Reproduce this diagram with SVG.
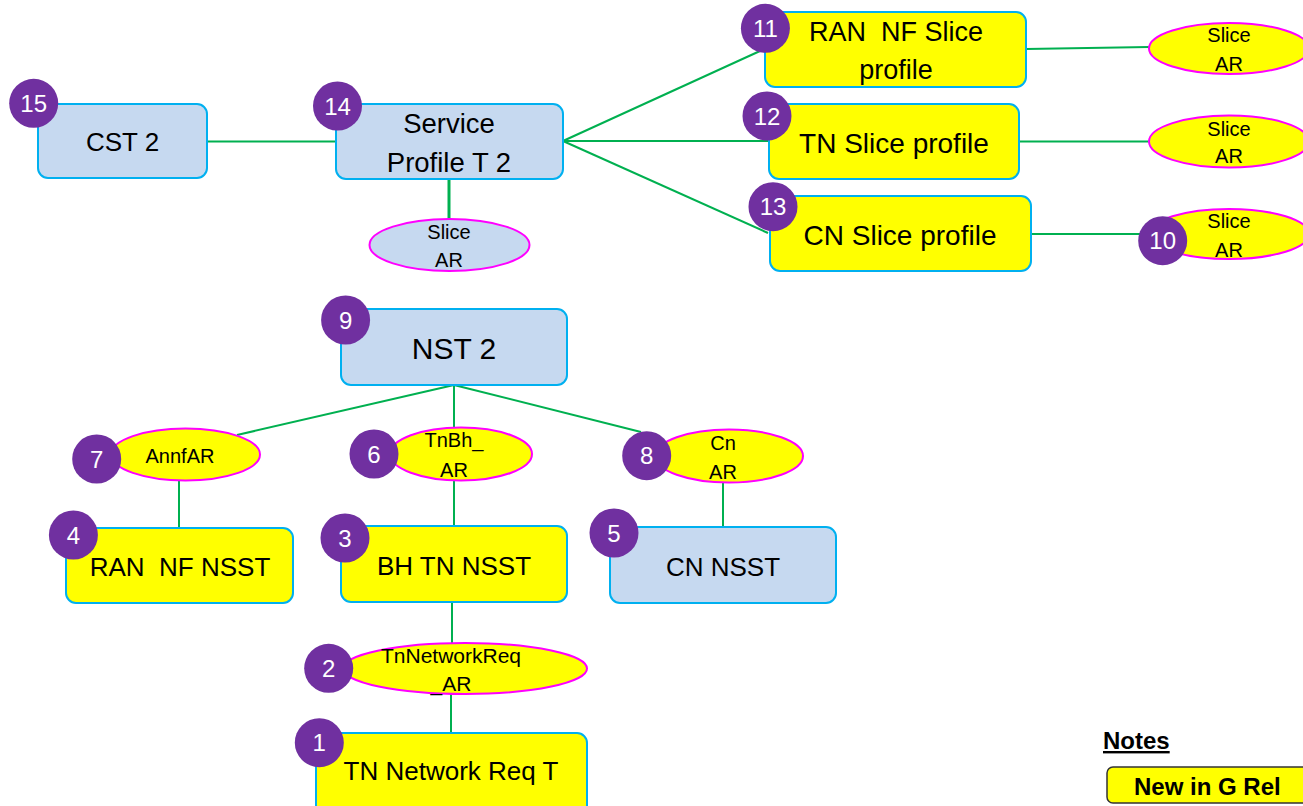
<svg xmlns="http://www.w3.org/2000/svg" width="1303" height="806" viewBox="0 0 1303 806">
<style>
text{font-family:"Liberation Sans",Arial,sans-serif;fill:#000}
.bb{fill:#C6D9F0;stroke:#00B0F0;stroke-width:2}
.yb{fill:#FFFF00;stroke:#00B0F0;stroke-width:2}
.ye{fill:#FFFF00;stroke:#FF00FF;stroke-width:2}
.be{fill:#C6D9F0;stroke:#FF00FF;stroke-width:2}
.t{font-size:26px;text-anchor:middle;white-space:pre}
.tp{font-size:28px}
.tl{font-size:30px;text-anchor:middle}
.s{font-size:20px;text-anchor:middle}
.n circle{fill:#7030A0}
.n text{fill:#fff;font-size:24px;text-anchor:middle}
#conn line{stroke:#00B050;stroke-width:2}
</style>
<rect width="1303" height="806" fill="#fff"/>
<g id="conn">
<line x1="207" y1="141.5" x2="336" y2="141.5"/>
<line x1="449" y1="179" x2="449" y2="220" style="stroke-width:3"/>
<line x1="563" y1="141" x2="760" y2="51"/>
<line x1="563" y1="141" x2="769" y2="141"/>
<line x1="563" y1="141" x2="768" y2="233"/>
<line x1="1026" y1="49" x2="1149" y2="47"/>
<line x1="1019" y1="141.5" x2="1149" y2="141.5"/>
<line x1="1031" y1="234" x2="1145" y2="234"/>
<line x1="454" y1="385" x2="237" y2="435"/>
<line x1="454" y1="385" x2="454" y2="428"/>
<line x1="454" y1="385" x2="641" y2="432"/>
<line x1="179" y1="481" x2="179" y2="528"/>
<line x1="454" y1="481" x2="454" y2="526"/>
<line x1="723" y1="483" x2="723" y2="527"/>
<line x1="452" y1="602" x2="452" y2="643"/>
<line x1="451" y1="694" x2="451" y2="733"/>
</g>
<g id="cst2"><rect class="bb" x="38" y="104" width="169" height="74" rx="10"/><text class="t" x="122.5" y="151">CST 2</text></g>
<g id="sp"><rect class="bb" x="336" y="104" width="227" height="75" rx="10"/><text class="t" x="449" y="133" style="font-size:27.5px">Service</text><text class="t" x="449" y="172" style="font-size:27.5px">Profile T 2</text></g>
<g id="sp-ar"><ellipse class="be" cx="449.5" cy="245" rx="80" ry="26"/><text class="s" x="449" y="239">Slice</text><text class="s" x="449" y="267">AR</text></g>
<g id="ran-sp"><rect class="yb" x="765" y="12" width="261" height="75" rx="10"/><text class="t" x="896" y="41" style="font-size:27px">RAN  NF Slice</text><text class="t" x="896" y="79" style="font-size:27px">profile</text></g>
<g id="tn-sp"><rect class="yb" x="769" y="104" width="250" height="75" rx="10"/><text class="t tp" x="894" y="153">TN Slice profile</text></g>
<g id="cn-sp"><rect class="yb" x="770" y="196" width="261" height="75" rx="10"/><text class="t tp" x="900" y="245">CN Slice profile</text></g>
<g id="ar1"><ellipse class="ye" cx="1229" cy="48.5" rx="80" ry="25.5"/><text class="s" x="1229" y="42">Slice</text><text class="s" x="1229" y="71">AR</text></g>
<g id="ar2"><ellipse class="ye" cx="1229" cy="141.5" rx="80" ry="26"/><text class="s" x="1229" y="136">Slice</text><text class="s" x="1229" y="163">AR</text></g>
<g id="ar3"><ellipse class="ye" cx="1229" cy="234" rx="80" ry="25"/><text class="s" x="1229" y="228">Slice</text><text class="s" x="1229" y="257">AR</text></g>
<g id="nst2"><rect class="bb" x="341" y="309" width="226" height="76" rx="10"/><text class="tl" x="454" y="359">NST 2</text></g>
<g id="annf"><ellipse class="ye" cx="185.5" cy="454.5" rx="74.5" ry="26"/><text class="s" x="180" y="463">AnnfAR</text></g>
<g id="tnbh"><ellipse class="ye" cx="461" cy="454" rx="71" ry="26.5"/><text class="s" x="454" y="447">TnBh_</text><text class="s" x="454" y="477">AR</text></g>
<g id="cnar"><ellipse class="ye" cx="729" cy="456" rx="74" ry="26.5"/><text class="s" x="723" y="450">Cn</text><text class="s" x="723" y="479">AR</text></g>
<g id="ran-nsst"><rect class="yb" x="66" y="528" width="227" height="75" rx="10"/><text class="t" x="180" y="576">RAN  NF NSST</text></g>
<g id="bh-nsst"><rect class="yb" x="341" y="526" width="226" height="76" rx="10"/><text class="t" x="454" y="575">BH TN NSST</text></g>
<g id="cn-nsst"><rect class="bb" x="610" y="527" width="226" height="76" rx="10"/><text class="t" x="723" y="576">CN NSST</text></g>
<g id="tnnet-ar"><ellipse class="ye" cx="465" cy="668.5" rx="122" ry="25.5"/><text class="s" x="451" y="663" style="font-size:21px">TnNetworkReq</text><text class="s" x="451" y="691" style="font-size:21px">_AR</text></g>
<g id="tnreq"><rect class="yb" x="316" y="733" width="271" height="85" rx="10"/><text class="t" x="451" y="780">TN Network Req T</text></g>
<g class="n" id="b15"><circle cx="33.7" cy="103.3" r="24.5"/><text x="33.7" y="112">15</text></g>
<g class="n" id="b14"><circle cx="337.5" cy="106" r="24.5"/><text x="337.5" y="114.7">14</text></g>
<g class="n" id="b11"><circle cx="765.4" cy="28.3" r="24.5"/><text x="765.4" y="37">11</text></g>
<g class="n" id="b12"><circle cx="767" cy="116" r="24.5"/><text x="767" y="124.7">12</text></g>
<g class="n" id="b13"><circle cx="773" cy="206.7" r="24.5"/><text x="773" y="215.4">13</text></g>
<g class="n" id="b10"><circle cx="1162.7" cy="240.7" r="24.5"/><text x="1162.7" y="249.4">10</text></g>
<g class="n" id="b9"><circle cx="345.6" cy="320" r="24.5"/><text x="345.6" y="328.7">9</text></g>
<g class="n" id="b7"><circle cx="96.7" cy="459" r="24.5"/><text x="96.7" y="467.7">7</text></g>
<g class="n" id="b6"><circle cx="374" cy="454" r="24.5"/><text x="374" y="462.7">6</text></g>
<g class="n" id="b8"><circle cx="646.7" cy="455.7" r="24.5"/><text x="646.7" y="464.4">8</text></g>
<g class="n" id="b4"><circle cx="73.4" cy="535" r="24.5"/><text x="73.4" y="543.7">4</text></g>
<g class="n" id="b3"><circle cx="345" cy="538" r="24.5"/><text x="345" y="546.7">3</text></g>
<g class="n" id="b5"><circle cx="614" cy="533" r="24.5"/><text x="614" y="541.7">5</text></g>
<g class="n" id="b2"><circle cx="328.7" cy="668.3" r="24.5"/><text x="328.7" y="677">2</text></g>
<g class="n" id="b1"><circle cx="319.3" cy="742.7" r="24.5"/><text x="319.3" y="751.4">1</text></g>
<g id="notes">
<text x="1103" y="749" style="font-size:24px;font-weight:bold;text-decoration:underline">Notes</text>
<rect x="1107" y="767" width="220" height="36" rx="6" fill="#FFFF00" stroke="#333" stroke-width="1.5"/>
<text x="1134" y="795" style="font-size:24px;font-weight:bold">New in G Rel</text>
</g>
</svg>
